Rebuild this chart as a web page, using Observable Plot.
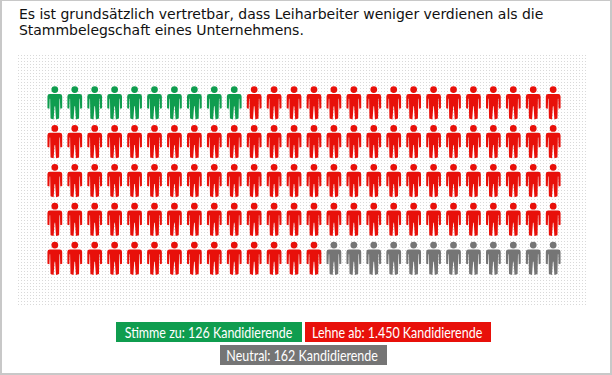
<!DOCTYPE html>
<html><head><meta charset="utf-8">
<script src="https://cdn.jsdelivr.net/npm/d3@7"></script>
<script src="https://cdn.jsdelivr.net/npm/@observablehq/plot@0.6"></script>
<style>
html,body{margin:0;padding:0;background:#fff}
#page{position:relative;width:612px;height:375px;overflow:hidden;box-sizing:border-box;border-left:2px solid #c8c8c8;border-right:2px solid #c8c8c8;border-bottom:2px solid #c8c8c8;border-top:1px solid #c8c8c8}
#page>*{position:absolute}
#title{left:17px;top:5px;width:570px;font:14px/16px "DejaVu Sans",sans-serif;letter-spacing:-0.03px;color:#111}
#bg{left:16px;top:54px;width:569px;height:251px;background-image:url("data:image/svg+xml,%3Csvg xmlns='http://www.w3.org/2000/svg' width='3' height='3'%3E%3Crect width='1' height='1' fill='%23d9d9d9'/%3E%3C/svg%3E");background-size:3px 3px}
#plot{left:-2px;top:-1px}
.lg{height:20px;font:16px/20px Lato,sans-serif;color:#fff;display:flex;justify-content:center;white-space:nowrap}
.lg span{display:block;flex:none;transform:translateX(-1px) scaleX(0.78);transform-origin:center}
</style></head><body>
<div id="page">
<div id="title">Es ist grundsätzlich vertretbar, dass Leiharbeiter weniger verdienen als die<br>Stammbelegschaft eines Unternehmens.</div>
<div id="bg"></div>
<div id="plot"></div>
<div class="lg" style="left:114px;top:321px;width:186px;background:#0f9d4f"><span>Stimme zu: 126 Kandidierende</span></div>
<div class="lg" style="left:303px;top:321px;width:186px;background:#e8100a"><span>Lehne ab: 1.450 Kandidierende</span></div>
<div class="lg" style="left:218px;top:344px;width:167px;background:#757575"><span>Neutral: 162 Kandidierende</span></div>
</div>
<script>
const columns = d3.range(26);
const rows = d3.range(5);
const answers = ["Stimme zu","Lehne ab","Neutral"];
const colors = ["#0f9d4f","#e8100a","#757575"];
const iconCounts = [10,108,12];

const people = [];
let k = 0;
const seq = iconCounts.flatMap((n,i)=>d3.range(n).map(()=>answers[i]));
for (const r of rows) for (const c of columns) people.push({c,r,answer:seq[k++]});

const person = {draw(ctx){
  ctx.moveTo(3.4,-13.6);ctx.arc(0,-13.6,3.4,0,Math.PI*2);
  ctx.moveTo(-5,-9.2);ctx.lineTo(5,-9.2);ctx.quadraticCurveTo(7.4,-9.2,7.4,-6.8);
  ctx.lineTo(7.4,5);ctx.lineTo(5.4,5.6);ctx.lineTo(5.1,-4.5);ctx.lineTo(4.7,-4.5);
  ctx.lineTo(4.3,15.5);ctx.lineTo(1.2,16.3);ctx.lineTo(0.3,3);ctx.lineTo(-0.3,3);
  ctx.lineTo(-1.2,16.3);ctx.lineTo(-4.3,15.5);ctx.lineTo(-4.7,-4.5);ctx.lineTo(-5.1,-4.5);
  ctx.lineTo(-5.4,5.6);ctx.lineTo(-7.4,5);ctx.lineTo(-7.4,-6.8);ctx.quadraticCurveTo(-7.4,-9.2,-5,-9.2);
  ctx.closePath();
}};

const plot = Plot.plot({
  width:612,height:375,margin:0,
  style:{background:"transparent"},
  x:{type:"linear",domain:[0,25],range:[54.5,554.5],axis:null},
  y:{type:"linear",domain:[0,4],range:[103,259],axis:null},
  color:{domain:answers,range:colors},
  marks:[Plot.dot(people,{x:"c",y:"r",fill:"answer",symbol:person,r:3})]
});
document.getElementById("plot").append(plot);
</script>
</body></html>
